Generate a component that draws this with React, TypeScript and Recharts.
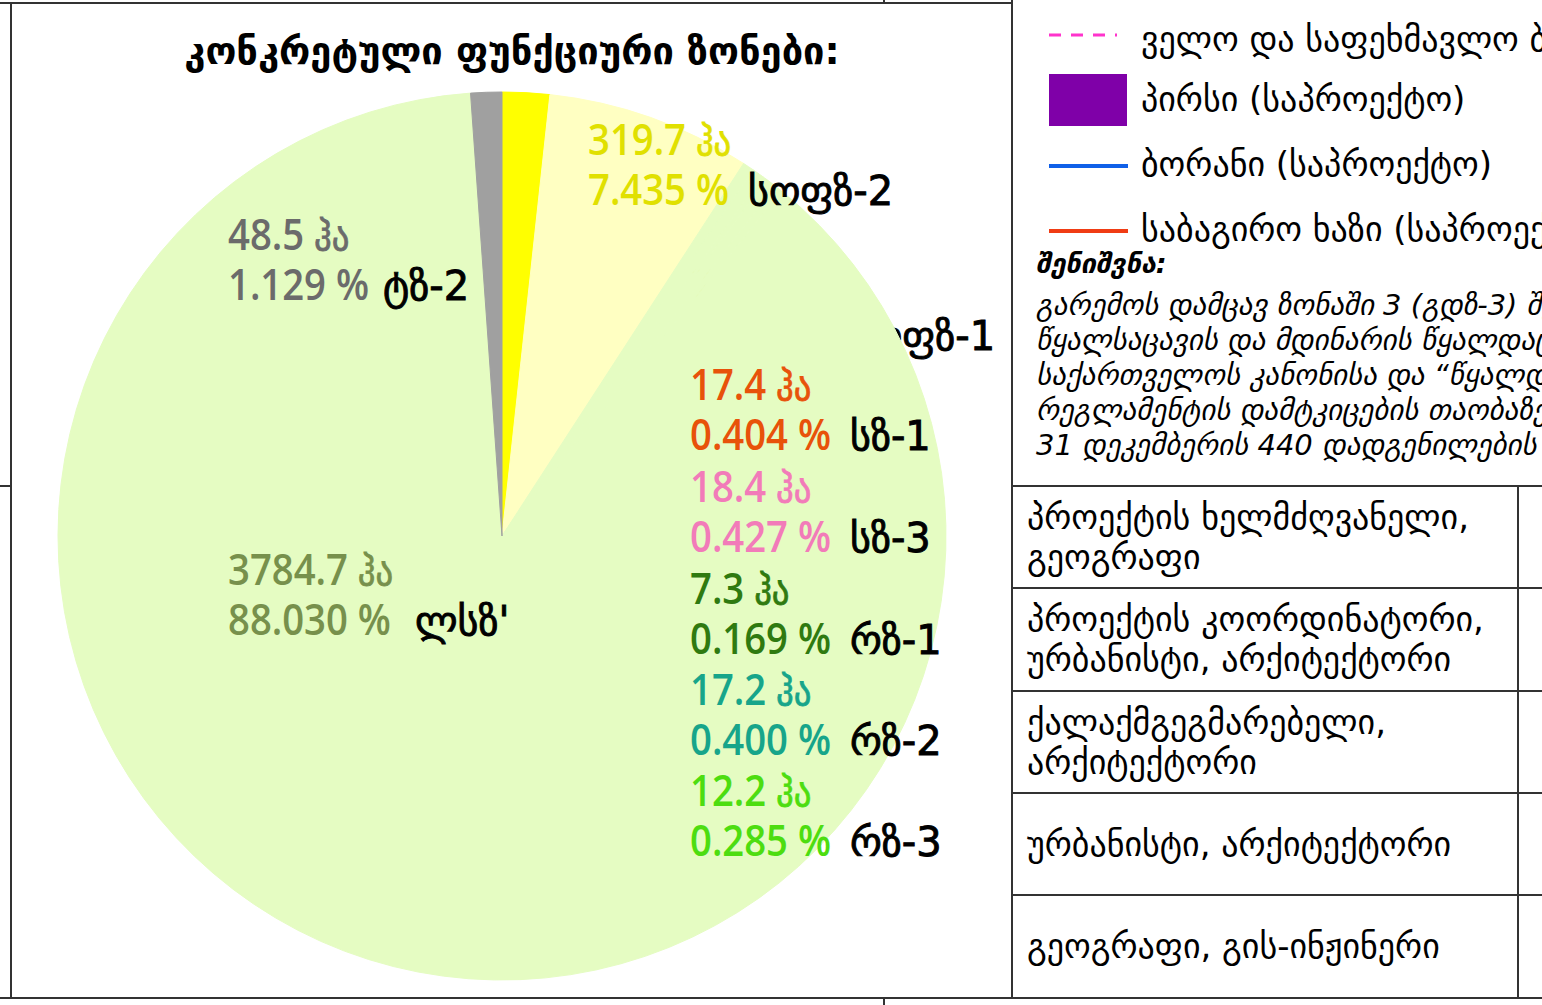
import React from "react"
import { PieChart, Pie, Cell } from "recharts"

// zone codes, areas (ha) and shares (%)
const zones = ["სოფზ-1", "სოფზ-2", "სზ-1", "სზ-3", "რზ-1", "რზ-2", "რზ-3", "ლსზ'", "ტზ-2"]
const areas = [74.0, 319.7, 17.4, 18.4, 7.3, 17.2, 12.2, 3784.7, 48.5]
const shares = [1.721, 7.435, 0.404, 0.427, 0.169, 0.4, 0.285, 88.03, 1.129]

const legendItems = [
  "ველო და საფეხმავლო ბილიკი (საპროექტო)",
  "პირსი (საპროექტო)",
  "ბორანი (საპროექტო)",
  "საბაგირო ხაზი (საპროექტო)",
]
const noteLines = [
  "გარემოს დამცავ ზონაში 3 (გდზ-3) შედის",
  "წყალსაცავის და მდინარის წყალდაცვითი ზოლი",
  "საქართველოს კანონისა და “წყალდაცვითი ზოლის",
  "რეგლამენტის დამტკიცების თაობაზე” 2013 წლის",
  "31 დეკემბერის 440 დადგენილების შესაბამისად",
]
const staffRows = [
  ["პროექტის ხელმძღვანელი,", "გეოგრაფი"],
  ["პროექტის კოორდინატორი,", "ურბანისტი, არქიტექტორი"],
  ["ქალაქმგეგმარებელი,", "არქიტექტორი"],
  ["ურბანისტი, არქიტექტორი"],
  ["გეოგრაფი, გის-ინჟინერი"],
]

const sliceFill = ["#ffff00", "#ffffc2", "#e5fcc2", "#e5fcc2", "#e5fcc2", "#e5fcc2", "#e5fcc2", "#e5fcc2", "#a0a0a0"]
const textFill = ["#e0e000", "#e0e000", "#e8520a", "#f27bb9", "#2f7a10", "#17a58a", "#4ddd10", "#77904c", "#6b6b6b"]
// label anchor: x of values, first baseline (second line is +50), x of zone code
const labelAt: [number, number, number][] = [
  [690, 300, 850], [588, 155, 748], [690, 400, 850], [690, 502, 850], [690, 604, 850],
  [690, 705, 850], [690, 806, 850], [228, 585, 415], [228, 250, 383],
]

const data = zones.map((z, i) => ({ zone: z, area: areas[i], share: shares[i] }))

const NUM = "'Open Sans', 'DejaVu Sans', sans-serif"
const GEO = "'DejaVu Sans', sans-serif"

function ZoneLabel({ i }: { i: number }) {
  const [x, y, zx] = labelAt[i]
  return (
    <g>
      <g transform={`translate(${x},${y}) scale(0.87,1)`}>
        <text x={0} y={0} fontFamily={NUM} fontSize={44} fontWeight={600} fill={textFill[i]}>
          {areas[i].toFixed(1)}{" "}
          <tspan fontFamily={GEO} fontWeight="normal" fontSize={40} stroke={textFill[i]} strokeWidth={0.8}>ჰა</tspan>
        </text>
        <text x={0} y={50} fontFamily={NUM} fontSize={44} fontWeight={600} fill={textFill[i]}>
          {shares[i].toFixed(3)} %
        </text>
      </g>
      <text x={zx} y={y + 50} fontFamily={GEO} fontSize={40} fill="#000" stroke="#000" strokeWidth={0.9}>
        {zones[i]}
      </text>
    </g>
  )
}

export default function App() {
  const line = "#333"
  return (
    <div style={{ position: "absolute", left: 0, top: 0, width: 1542, height: 1005, overflow: "hidden", background: "#fff" }}>
      {/* label that sits under the pie, only its tail shows */}
      <svg width={1542} height={1005} style={{ position: "absolute", left: 0, top: 0 }}>
        <ZoneLabel i={0} />
      </svg>
      <div style={{ position: "absolute", left: 0, top: 0 }}>
        <PieChart width={1542} height={1005} margin={{ top: 0, right: 0, bottom: 0, left: 0 }}>
          <Pie
            data={data}
            dataKey="share"
            nameKey="zone"
            cx={502}
            cy={536}
            outerRadius={444}
            startAngle={90}
            endAngle={-270}
            isAnimationActive={false}
          >
            {data.map((d, i) => (
              <Cell key={d.zone} fill={sliceFill[i]} stroke={sliceFill[i]} strokeWidth={1} />
            ))}
          </Pie>
        </PieChart>
      </div>
      <svg width={1542} height={1005} style={{ position: "absolute", left: 0, top: 0, pointerEvents: "none" }}>
        <text x={512} y={64} textAnchor="middle" fontFamily={GEO} fontWeight="bold" fontSize={38}>
          კონკრეტული ფუნქციური ზონები:
        </text>
        {zones.map((z, i) => (i === 0 ? null : <ZoneLabel key={z} i={i} />))}

        {/* frame */}
        <g stroke={line} strokeWidth={2}>
          <line x1={0} y1={3} x2={1012} y2={3} />
          <line x1={11} y1={3} x2={11} y2={998} />
          <line x1={0} y1={486} x2={11} y2={486} />
          <line x1={884} y1={0} x2={884} y2={3} />
          <line x1={884} y1={998} x2={884} y2={1005} />
          <line x1={1012} y1={0} x2={1012} y2={998} />
          <line x1={0} y1={998} x2={1542} y2={998} />
          {[486, 588, 691, 793, 895].map((y) => (
            <line key={y} x1={1012} y1={y} x2={1542} y2={y} />
          ))}
          <line x1={1518} y1={486} x2={1518} y2={998} />
        </g>

        {/* legend */}
        <line x1={1049} y1={35} x2={1117} y2={35} stroke="#ff33cc" strokeWidth={3} strokeDasharray="12 10" />
        <rect x={1049} y={74} width={78} height={52} fill="#7f00a8" />
        <line x1={1049} y1={166} x2={1128} y2={166} stroke="#1060e8" strokeWidth={4} />
        <line x1={1049} y1={231} x2={1128} y2={231} stroke="#f03c14" strokeWidth={4} />
        {legendItems.map((t, i) => (
          <text key={t} x={1141} y={[51, 111, 176, 241][i]} fontFamily={GEO} fontSize={34}>
            {t}
          </text>
        ))}
        <text x={1036} y={273} fontFamily={GEO} fontSize={27} fontWeight="bold" fontStyle="italic">
          შენიშვნა:
        </text>
        {noteLines.map((t, i) => (
          <text key={t} x={1036} y={315 + i * 35} fontFamily={GEO} fontSize={29} fontStyle="italic">
            {t}
          </text>
        ))}

        {/* staff table */}
        {staffRows.map((row, r) => {
          const top = [486, 588, 691, 793, 895][r]
          return row.map((t, k) => (
            <text
              key={t + k}
              x={1027}
              y={row.length === 2 ? top + 43 + k * 40 : top + 63}
              fontFamily={GEO}
              fontSize={34}
            >
              {t}
            </text>
          ))
        })}
      </svg>
    </div>
  )
}
